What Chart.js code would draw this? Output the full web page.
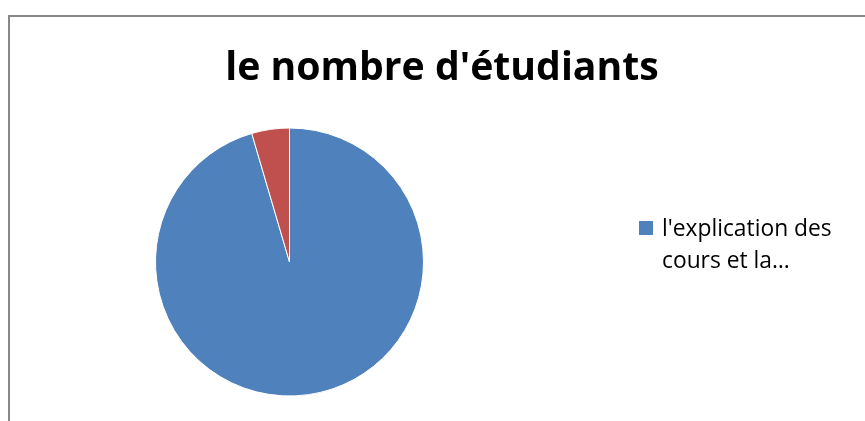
<!DOCTYPE html>
<html lang="fr">
  <head>
    <meta charset="UTF-8" />
    <title>le nombre d'étudiants</title>
    <script src="https://cdn.jsdelivr.net/npm/chart.js"></script>
    <style>
      html, body { margin: 0; padding: 0; background: #fff; overflow: hidden; }
      #frame {
        position: absolute; left: 8px; top: 15px;
        width: 900px; height: 500px;
        border: 2px solid #888;
      }
      #wrap { position: absolute; left: 0; top: 0; width: 865px; height: 421px; }
    </style>
  </head>
  <body>
    <div id="frame"></div>
    <div id="wrap"><canvas id="myChart" width="865" height="421"></canvas></div>
    <script>
      // data
      const chartTitle = "le nombre d'étudiants";
      const categories = ["l'explication des cours et la…", "autres"];
      const legendLines = ["l'explication des", "cours et la…"];
      const values = [21, 1];
      const colors = ["#4F81BD", "#C0504D"];

      // font size that makes a text span a given width
      function fitFont(ctx, text, weight, family, width) {
        ctx.font = weight + " 40px " + family;
        const s = 40 * width / ctx.measureText(text).width;
        return weight + " " + s.toFixed(1) + "px " + family;
      }

      // title centred on the whole frame + excel-style legend (first entry only, wrapped)
      const decor = {
        id: "decor",
        afterDraw(chart) {
          const ctx = chart.ctx;
          const ds = chart.data.datasets[0];
          ctx.save();
          ctx.fillStyle = "#000";
          ctx.textBaseline = "alphabetic";
          ctx.textAlign = "center";
          ctx.font = fitFont(ctx, chartTitle, "bold", "'Open Sans'", 434);
          ctx.fillText(chartTitle, 442, 80);

          ctx.fillStyle = ds.backgroundColor[0];
          ctx.fillRect(639, 221, 14, 14);
          ctx.fillStyle = "#000";
          ctx.textAlign = "left";
          ctx.font = fitFont(ctx, legendLines[0], "normal", "'Open Sans'", 170);
          legendLines.forEach((t, i) => ctx.fillText(t, 662, 236 + i * 32));
          ctx.restore();
        },
      };

      new Chart(document.getElementById("myChart"), {
        type: "pie",
        data: {
          labels: categories,
          datasets: [
            {
              data: values,
              backgroundColor: colors,
              borderColor: "#fff",
              borderWidth: 1,
            },
          ],
        },
        options: {
          responsive: false,
          animation: false,
          layout: { padding: { left: 155, right: 441, top: 127, bottom: 24 } },
          plugins: {
            legend: { display: false },
            tooltip: { enabled: false },
            title: { display: false },
          },
        },
        plugins: [decor],
      });
    </script>
  </body>
</html>
